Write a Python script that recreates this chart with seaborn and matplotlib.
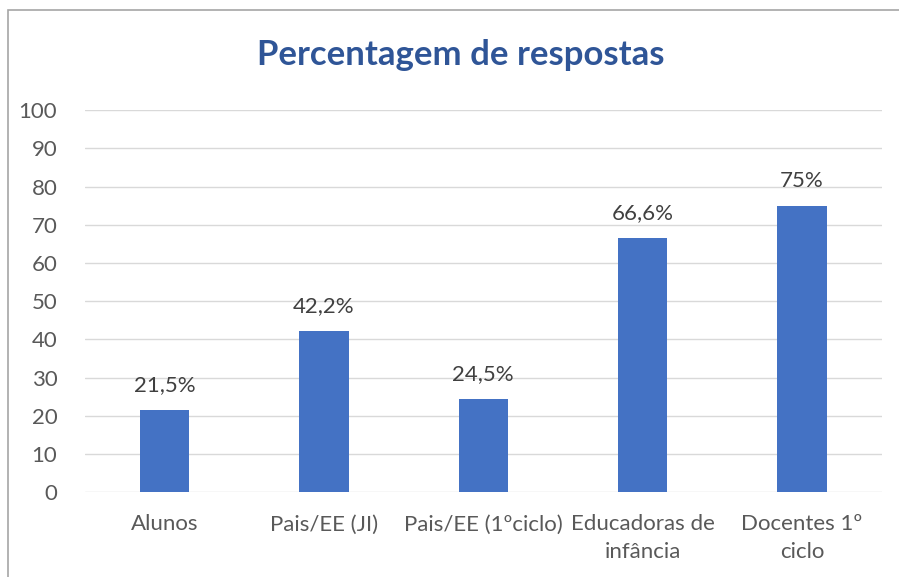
import matplotlib
matplotlib.use("Agg")
import matplotlib.pyplot as plt
import matplotlib.patches as mpatches
import seaborn as sns
import pandas as pd

categories = ["Alunos", "Pais/EE (JI)", "Pais/EE (1ºciclo)", "Educadoras de\ninfância", "Docentes 1º\nciclo"]
values = [21.5, 42.2, 24.5, 66.6, 75]
labels = ["21,5%", "42,2%", "24,5%", "66,6%", "75%"]
yticks = list(range(0, 101, 10))

sns.set_style("white")
plt.rcParams["font.family"] = ["Lato", "DejaVu Sans"]

df = pd.DataFrame({"cat": categories, "val": values})

fig = plt.figure(figsize=(8.99, 5.77), dpi=100)
ax = fig.add_axes([0.0946, 0.147, 0.886, 0.662])

sns.barplot(data=df, x="cat", y="val", color="#4472C4", width=0.31, saturation=1,
            linewidth=0, ax=ax)

for i, (v, lab) in enumerate(zip(values, labels)):
    ax.text(i, v + 3.8, lab, ha="center", va="bottom", fontsize=16, color="#404040")

ax.set_ylim(0, 100)
ax.set_xlim(-0.5, len(categories) - 0.5)
ax.set_yticks(yticks)
ax.yaxis.grid(True, color="#D9D9D9", linewidth=1)
ax.set_axisbelow(True)
for s in ax.spines.values():
    s.set_visible(False)
ax.tick_params(axis="both", length=0, labelsize=16, labelcolor="#595959")
ax.tick_params(axis="y", pad=20)
ax.tick_params(axis="x", pad=16)
for t in ax.get_xticklabels():
    t.set_linespacing(1.5)
ax.set_xlabel("")
ax.set_ylabel("")

fig.text(0.512, 0.905, "Percentagem de respostas", ha="center", va="center",
         fontsize=25, fontweight="bold", color="#2F5597")

border = mpatches.Rectangle((8 / 899, -0.05), 1.0, 1 - 10 / 577 + 0.05, transform=fig.transFigure,
                            fill=False, edgecolor="#A6A6A6", linewidth=1.2)
fig.patches.append(border)

fig.savefig("out.png", dpi=100)
